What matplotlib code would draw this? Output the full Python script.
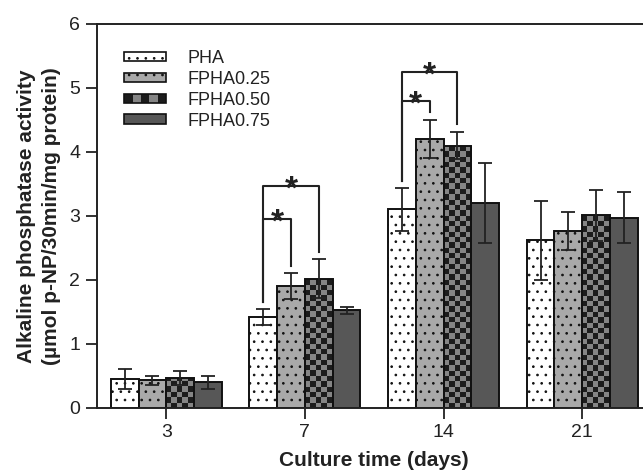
#Importing Modules
import numpy as np
import matplotlib
matplotlib.use("Agg")
import matplotlib.pyplot as plt
from matplotlib.patches import Patch, Rectangle
from matplotlib.colors import ListedColormap
from matplotlib.legend_handler import HandlerBase

plt.rcParams['font.family'] = ['Liberation Sans', 'DejaVu Sans']
plt.rcParams['hatch.linewidth'] = 0.7

#Data Values
days = ["3", "7", "14", "21"]
groups = ["PHA", "FPHA0.25", "FPHA0.50", "FPHA0.75"]
pha = [0.45, 1.42, 3.10, 2.62]
pha_err = [0.15, 0.12, 0.33, 0.62]
fpha25 = [0.43, 1.90, 4.20, 2.76]
fpha25_err = [0.07, 0.20, 0.30, 0.30]
fpha50 = [0.46, 2.02, 4.10, 3.01]
fpha50_err = [0.11, 0.30, 0.21, 0.40]
fpha75 = [0.40, 1.52, 3.20, 2.97]
fpha75_err = [0.10, 0.05, 0.62, 0.40]

#Significance brackets: (day index, group a, group b, bracket height)
sig = [(1, 0, 1, 2.95), (1, 0, 2, 3.47), (2, 0, 1, 4.79), (2, 0, 2, 5.25)]

means = [pha, fpha25, fpha50, fpha75]
errs = [pha_err, fpha25_err, fpha50_err, fpha75_err]

#Styling
txt = "#222222"
dark = "#1c1c1c"
gray50 = "#858585"
faces = ["white", "#a9a9a9", "none", "#575757"]
hatches = ["..", "..", None, None]
width = 0.2
offsets = (np.arange(4) - 1.5) * width
x = np.arange(len(days))

fig = plt.figure(figsize=(6.43, 4.70), dpi=100)
ax = fig.add_axes([97 / 643, 1 - 407.7 / 470, 554.5 / 643, 383.7 / 470])

bars = []
for k in range(4):
    b = ax.bar(x + offsets[k], means[k], width, color=faces[k], edgecolor="#111111",
               linewidth=1.4, hatch=hatches[k], zorder=2)
    bars.append(b)
    ax.errorbar(x + offsets[k], means[k], yerr=errs[k], fmt="none", ecolor="#222222",
                elinewidth=1.3, capsize=4.7, capthick=1.3, zorder=4)

#Checkerboard fill for FPHA0.50
ncol, nrow = 104, 72
checker = np.indices((nrow, ncol)).sum(axis=0) % 2
cmap = ListedColormap([dark, gray50])
for rect in bars[2]:
    im = ax.imshow(checker, cmap=cmap, extent=(-0.5, 3.5, 0, 6), aspect="auto",
                   interpolation="nearest", origin="lower", zorder=1.5)
    im.set_clip_path(rect)
ax.set_xlim(-0.5, 3.5)
ax.set_ylim(0, 6)

#Brackets with stars
gap = 0.12
for i, a, b, top in sig:
    x1, x2 = i + offsets[a], i + offsets[b]
    y1 = means[a][i] + errs[a][i] + gap
    y2 = means[b][i] + errs[b][i] + gap
    ax.plot([x1, x1, x2, x2], [y1, top, top, y2], color="#222222", lw=1.5, zorder=5)
    ax.annotate("*", ((x1 + x2) / 2, top), textcoords="offset points", xytext=(0, -9),
                ha="center", va="baseline", fontsize=24, fontweight="bold", color=txt)

#Axes styling
for s in ["left", "bottom", "top", "right"]:
    ax.spines[s].set_linewidth(1.4)
    ax.spines[s].set_color("#222222")
ax.set_xticks(x)
ax.set_xticklabels(days)
ax.set_yticks(range(7))
ax.tick_params(direction="out", length=8, width=1.3, labelsize=14, colors="#222222",
               labelcolor=txt, pad=4)
ax.set_xlabel("Culture time (days)", fontsize=15, fontweight="bold", color=txt, labelpad=7)
ax.set_ylabel("Alkaline phosphatase activity\n(µmol p-NP/30min/mg protein)", fontsize=15,
              fontweight="bold", color=txt, labelpad=6, linespacing=1.4)


#Legend with checker handle
class CheckerHandler(HandlerBase):
    def create_artists(self, legend, orig_handle, xdescent, ydescent, w, h, fontsize, trans):
        arts = []
        n = 5
        for j in range(n):
            c = dark if j % 2 == 0 else gray50
            arts.append(Rectangle((-xdescent + j * w / n, -ydescent), w / n, h,
                                  facecolor=c, edgecolor="none", transform=trans))
        arts.append(Rectangle((-xdescent, -ydescent), w, h, facecolor="none",
                              edgecolor="#111111", lw=1.2, transform=trans))
        return arts


handles = [Patch(facecolor=faces[0], edgecolor="#111111", hatch="..", lw=1.2),
           Patch(facecolor=faces[1], edgecolor="#111111", hatch="..", lw=1.2),
           Patch(facecolor=dark, edgecolor="#111111", lw=1.2),
           Patch(facecolor=faces[3], edgecolor="#111111", lw=1.2)]
leg = ax.legend(handles, groups, loc="upper left", bbox_to_anchor=(0.02, 0.975), frameon=False,
                fontsize=13, handlelength=2.3, handleheight=0.45, labelspacing=0.22,
                handletextpad=1.2, handler_map={handles[2]: CheckerHandler()})
for t in leg.get_texts():
    t.set_color(txt)

#Save Graph
fig.savefig("out.png", dpi=100)
